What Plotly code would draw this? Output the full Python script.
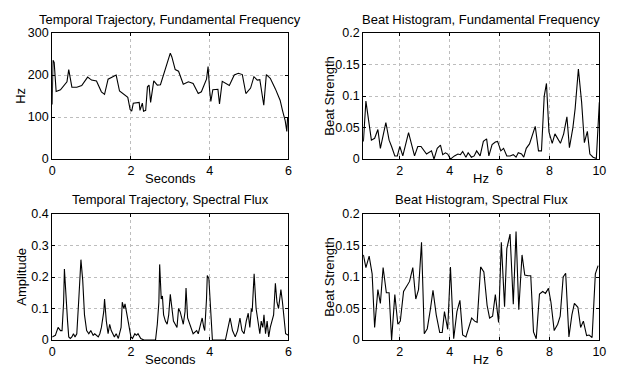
import plotly.graph_objects as go

# ---- Data ----
f0_t = [0.0, 0.02, 0.05, 0.1, 0.21, 0.29, 0.375, 0.42, 0.5, 0.625, 0.75, 0.9, 1.0, 1.125, 1.25, 1.33,
        1.42, 1.625, 1.71, 1.92, 1.98, 2.02, 2.06, 2.21, 2.23, 2.29, 2.32, 2.375, 2.42, 2.46, 2.5, 2.58,
        2.67, 2.75, 2.875, 3.0, 3.04, 3.125, 3.21, 3.33, 3.46, 3.58, 3.71, 3.79, 3.92, 3.96, 4.0, 4.03,
        4.08, 4.21, 4.25, 4.32, 4.5, 4.625, 4.73, 4.83, 4.92, 5.04, 5.125, 5.21, 5.275, 5.375, 5.44,
        5.54, 5.67, 5.79, 5.85, 5.92, 5.96, 5.98]
f0_hz = [130, 235, 230, 161, 165, 175, 184, 213, 171, 171, 175, 195, 188, 186, 160, 154,
         190, 200, 162, 147, 118, 114, 133, 135, 116, 133, 114, 116, 172, 176, 135, 186,
         176, 177, 216, 252, 243, 213, 209, 178, 184, 180, 156, 160, 190, 220, 163, 137,
         165, 166, 131, 185, 175, 200, 204, 201, 156, 169, 196, 188, 189, 128, 201,
         192, 167, 140, 116, 91, 66, 99]

sf_t = [0.0, 0.08, 0.15, 0.21, 0.25, 0.29, 0.31, 0.35, 0.39, 0.42, 0.46, 0.5, 0.54, 0.58, 0.625,
        0.68, 0.73, 0.775, 0.82, 0.875, 0.93, 0.98, 1.04, 1.08, 1.17, 1.21, 1.25, 1.31, 1.33, 1.375,
        1.42, 1.46, 1.5, 1.54, 1.58, 1.625, 1.68, 1.75, 1.78, 1.82, 1.85, 1.9, 1.96, 2.0, 2.04, 2.1,
        2.14, 2.18, 2.25, 2.33, 2.625, 2.67, 2.71, 2.73, 2.77, 2.8, 2.83, 2.875, 2.92, 2.96, 3.0,
        3.04, 3.08, 3.125, 3.17, 3.21, 3.25, 3.29, 3.33, 3.375, 3.4, 3.44, 3.5, 3.54, 3.58, 3.67,
        3.71, 3.75, 3.81, 3.85, 3.875, 3.92, 3.94, 3.98, 4.03, 4.07, 4.4, 4.46, 4.52, 4.58, 4.65,
        4.71, 4.77, 4.82, 4.875, 4.93, 4.98, 5.02, 5.06, 5.08, 5.13, 5.18, 5.23, 5.275, 5.31, 5.35,
        5.38, 5.42, 5.46, 5.5, 5.54, 5.58, 5.625, 5.67, 5.71, 5.75, 5.81, 5.85, 5.9, 5.93, 6.0]
sf_amp = [0.01, 0.015, 0.04, 0.03, 0.03, 0.12, 0.225, 0.13, 0.06, 0.01, 0.005, 0.01, 0.02, 0.01, 0.02,
          0.14, 0.255, 0.19, 0.08, 0.03, 0.02, 0.03, 0.015, 0.02, 0.01, 0.02, 0.04, 0.09, 0.13, 0.06,
          0.02, 0.05, 0.03, 0.02, 0.01, 0.02, 0.005, 0.04, 0.12, 0.10, 0.115, 0.08, 0.03, 0.01, 0.005, 0.02,
          0.015, 0.02, 0.005, 0.0, 0.0, 0.05, 0.12, 0.24, 0.13, 0.14, 0.08, 0.06, 0.05, 0.08, 0.145,
          0.11, 0.06, 0.05, 0.04, 0.10, 0.09, 0.07, 0.05, 0.09, 0.165, 0.07, 0.05, 0.03, 0.02, 0.03,
          0.02, 0.04, 0.07, 0.04, 0.03, 0.13, 0.205, 0.195, 0.08, 0.0, 0.0, 0.04, 0.07, 0.03, 0.01,
          0.03, 0.07, 0.03, 0.02, 0.06, 0.085, 0.04, 0.10, 0.09, 0.21, 0.10, 0.05, 0.02, 0.06, 0.04,
          0.08, 0.02, 0.06, 0.01, 0.04, 0.06, 0.08, 0.18, 0.12, 0.10, 0.16, 0.12, 0.05, 0.02, 0.015]

bh_f0_hz = [0.54, 0.64, 0.86, 0.99, 1.12, 1.22, 1.44, 1.57, 1.67, 1.8, 1.9, 2.0, 2.12, 2.35, 2.59, 2.72,
            2.85, 3.07, 3.27, 3.37, 3.5, 3.63, 3.72, 3.83, 3.92, 4.03, 4.19, 4.33, 4.43, 4.52, 4.65,
            4.74, 4.87, 4.98, 5.08, 5.22, 5.35, 5.48, 5.57, 5.7, 5.83, 5.92, 6.05, 6.16, 6.29, 6.42,
            6.55, 6.66, 6.75, 6.88, 6.97, 7.07, 7.2, 7.33, 7.43, 7.56, 7.68, 7.79, 7.88, 7.98, 8.11,
            8.22, 8.35, 8.44, 8.57, 8.7, 8.8, 8.94, 9.03, 9.16, 9.29, 9.4, 9.52, 9.62, 9.75, 9.88, 10.0]
bh_f0_val = [0.028, 0.092, 0.03, 0.033, 0.047, 0.017, 0.058, 0.03, 0.02, 0.005, 0.005, 0.02, 0.005, 0.042,
             0.005, 0.02, 0.02, 0.008, 0.013, 0.0, 0.017, 0.022, 0.007, 0.01, 0.008, 0.0, 0.005, 0.008,
             0.007, 0.012, 0.003, 0.01, 0.003, 0.005, 0.013, 0.005, 0.028, 0.032, 0.005, 0.023, 0.027,
             0.028, 0.013, 0.017, 0.005, 0.005, 0.007, 0.003, 0.01, 0.008, 0.003, 0.017, 0.024, 0.04,
             0.052, 0.013, 0.013, 0.1, 0.12, 0.043, 0.025, 0.04, 0.03, 0.025, 0.04, 0.067, 0.018, 0.05,
             0.08, 0.143, 0.09, 0.026, 0.044, 0.008, 0.003, 0.001, 0.09]

bh_sf_hz = [0.54, 0.64, 0.77, 0.89, 0.99, 1.12, 1.22, 1.33, 1.46, 1.57, 1.67, 1.8, 1.92, 2.02, 2.15, 2.28,
            2.39, 2.52, 2.64, 2.75, 2.87, 2.98, 3.1, 3.23, 3.33, 3.46, 3.6, 3.7, 3.79, 3.92, 4.03, 4.16,
            4.29, 4.41, 4.52, 4.65, 4.75, 4.88, 5.0, 5.1, 5.24, 5.37, 5.5, 5.6, 5.72, 5.83, 5.96, 6.07,
            6.2, 6.29, 6.42, 6.55, 6.66, 6.77, 6.9, 7.01, 7.14, 7.25, 7.36, 7.47, 7.6, 7.73, 7.84, 7.96,
            8.06, 8.19, 8.33, 8.43, 8.55, 8.65, 8.78, 8.9, 9.0, 9.14, 9.25, 9.36, 9.49, 9.59, 9.71, 9.84,
            9.95]
bh_sf_val = [0.135, 0.115, 0.133, 0.105, 0.02, 0.08, 0.058, 0.115, 0.075, 0.075, 0.0, 0.072, 0.025, 0.03,
             0.077, 0.087, 0.093, 0.115, 0.065, 0.08, 0.155, 0.01, 0.018, 0.05, 0.079, 0.04, 0.012, 0.012,
             0.045, 0.017, 0.116, 0.002, 0.045, 0.063, 0.008, 0.005, 0.018, 0.035, 0.03, 0.028, 0.116,
             0.108, 0.055, 0.035, 0.038, 0.072, 0.028, 0.155, 0.053, 0.145, 0.168, 0.057, 0.172, 0.048,
             0.135, 0.103, 0.102, 0.102, 0.013, 0.002, 0.073, 0.077, 0.074, 0.082, 0.06, 0.015, 0.025,
             0.038, 0.1, 0.106, 0.005, 0.04, 0.058, 0.052, 0.02, 0.03, 0.007, 0.008, 0.004, 0.105, 0.118]

titles = ["Temporal Trajectory, Fundamental Frequency", "Beat Histogram, Fundamental Frequency",
          "Temporal Trajectory, Spectral Flux", "Beat Histogram, Spectral Flux"]
xlabels = ["Seconds", "Hz", "Seconds", "Hz"]
ylabels = ["Hz", "Beat Strength", "Amplitude", "Beat Strength"]

W, H = 627, 374
# plot areas in pixels (left, right, top, bottom)
boxes = [(50, 290, 27, 158), (366, 606, 27, 158), (50, 290, 215, 346), (366, 606, 215, 346)]

FONT = "Liberation Sans, Arial, Helvetica, sans-serif"

fig = go.Figure()
series = [(f0_t, f0_hz), (bh_f0_hz, bh_f0_val), (sf_t, sf_amp), (bh_sf_hz, bh_sf_val)]
xranges = [[0, 6], [0.53, 10], [0, 6], [0.53, 10]]
yranges = [[0, 300], [0, 0.2], [0, 0.4], [0, 0.2]]
xticks = [[0, 2, 4, 6], [2, 4, 6, 8, 10], [0, 2, 4, 6], [2, 4, 6, 8, 10]]
yticks = [[0, 100, 200, 300], [0, 0.05, 0.1, 0.15, 0.2], [0, 0.1, 0.2, 0.3, 0.4], [0, 0.05, 0.1, 0.15, 0.2]]
ylabel_x = [17, 331, 18, 331]

for i, (xs, ys) in enumerate(series):
    n = "" if i == 0 else str(i + 1)
    fig.add_trace(go.Scatter(x=xs, y=ys, mode="lines", line=dict(color="black", width=1.1),
                             xaxis="x" + n, yaxis="y" + n, showlegend=False, hoverinfo="skip"))
    l, r, t, b = boxes[i]
    common = dict(showline=True, linecolor="black", linewidth=1, mirror="ticks", ticks="inside",
                  ticklen=3, tickcolor="black", showgrid=True, gridcolor="#bdbdbd", griddash="dot",
                  gridwidth=1, zeroline=False, tickfont=dict(family=FONT, size=12.5, color="black"))
    fig.layout["xaxis" + n] = dict(domain=[l / W, r / W], range=xranges[i], tickvals=xticks[i],
                                  ticktext=[str(v) for v in xticks[i]],
                                  anchor="y" + n, **common)
    yt = [("%g" % v) for v in yticks[i]]
    fig.layout["yaxis" + n] = dict(domain=[1 - b / H, 1 - t / H], range=yranges[i], tickvals=yticks[i],
                                  ticktext=yt, anchor="x" + n, **common)
    cx = (l + r) / 2 / W
    fig.add_annotation(text=titles[i], x=cx, y=1 - (t - 14.5) / H, xref="paper", yref="paper",
                       xanchor="center", yanchor="middle", showarrow=False,
                       font=dict(family=FONT, size=13, color="black"))
    fig.add_annotation(text=xlabels[i], x=cx, y=1 - (b + 20) / H, xref="paper", yref="paper",
                       xanchor="center", yanchor="middle", showarrow=False,
                       font=dict(family=FONT, size=13, color="black"))
    fig.add_annotation(text=ylabels[i], x=ylabel_x[i] / W, y=1 - (t + b) / 2 / H, xref="paper", yref="paper",
                       xanchor="center", yanchor="middle", textangle=-90, showarrow=False,
                       font=dict(family=FONT, size=13, color="black"))

fig.update_layout(width=W, height=H, margin=dict(l=0, r=0, t=0, b=0),
                  paper_bgcolor="white", plot_bgcolor="white")
fig.write_html("out.html", config={"displayModeBar": False},
               post_script="document.body.style.margin='0';document.body.style.overflow='hidden';")
